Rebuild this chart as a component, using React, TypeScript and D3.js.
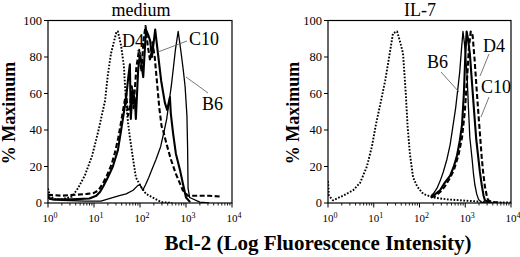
import React from 'react';
import * as d3 from 'd3';

type Pt = [number, number]; // [log10 intensity, % of maximum]

const yTicks = [0, 20, 40, 60, 80, 100];
const xDecades = [0, 1, 2, 3, 4];
const panelTitles = ['medium', 'IL-7'];

const mediumControl: Pt[] = [[0,8],[0.04,4],[0.15,2],[0.3,2],[0.45,3],[0.52,3.5],[0.65,8],[0.8,15],[0.96,26],[1.09,39],[1.24,56],[1.3,70],[1.37,82],[1.41,86],[1.49,94],[1.52,94],[1.59,86],[1.65,75],[1.68,62],[1.71,52],[1.74,44],[1.78,36],[1.85,24],[1.91,14],[2.02,9],[2.13,5],[2.24,3.5],[2.46,0.5],[2.7,0]];
const mediumD4: Pt[] = [[0,3],[0.1,2],[0.5,2],[0.9,2.5],[1.05,4],[1.13,6],[1.2,9],[1.3,14],[1.41,20],[1.52,29],[1.59,40],[1.67,53],[1.7,58],[1.75,70],[1.78,76],[1.8,46],[1.84,62],[1.89,56],[1.91,46],[1.96,73],[2.0,82],[2.07,69],[2.13,95],[2.18,92],[2.22,89],[2.26,80],[2.33,95],[2.39,82],[2.46,67],[2.54,55],[2.59,51],[2.65,58],[2.67,49],[2.72,38],[2.78,27],[2.87,18],[2.93,11],[3.0,3],[3.09,0.5]];
const mediumC10: Pt[] = [[0,4.5],[0.3,4],[0.6,4.5],[0.85,5],[1.0,5.5],[1.1,7],[1.2,11],[1.28,15],[1.38,21],[1.46,28],[1.53,36],[1.6,46],[1.66,55],[1.7,60],[1.74,48],[1.78,52],[1.82,64],[1.86,52],[1.92,74],[1.98,84],[2.03,72],[2.08,90],[2.12,97],[2.17,86],[2.22,78],[2.27,88],[2.32,80],[2.37,66],[2.42,52],[2.47,42],[2.5,40],[2.57,33],[2.67,24],[2.78,16],[2.93,7],[3.04,4],[3.5,4],[3.78,3.5]];
const mediumB6: Pt[] = [[0,4],[0.04,2],[0.3,1.5],[0.8,1],[1.15,1],[1.35,2.5],[1.55,4],[1.7,5],[1.85,7],[1.95,9.5],[2.0,10],[2.06,7],[2.12,10],[2.19,14],[2.27,19],[2.35,24],[2.45,31],[2.53,40],[2.58,46],[2.63,55],[2.68,64],[2.73,75],[2.77,84],[2.83,94],[2.89,83],[2.94,73],[2.98,64],[3.02,48],[3.035,30],[3.045,8],[3.08,3],[3.3,0.5],[3.5,0]];

const il7Control: Pt[] = [[0,12],[0.02,4],[0.11,1.5],[0.33,4],[0.55,7],[0.7,11],[0.85,20],[0.96,31],[1.04,42],[1.15,55],[1.25,67],[1.35,82],[1.42,93],[1.51,94],[1.58,88],[1.64,82],[1.7,60],[1.74,42],[1.79,27],[1.86,14],[1.95,9],[2.08,5],[2.3,3],[2.6,2],[2.88,1.5],[3.3,0.8],[3.6,0.3],[4,0.3]];
const il7B6: Pt[] = [[2.25,4],[2.3,5],[2.38,8],[2.45,12],[2.52,17],[2.6,24],[2.67,32],[2.73,42],[2.79,52],[2.84,63],[2.88,72],[2.92,85],[2.95,94],[2.98,88],[3.01,80],[3.04,70],[3.07,52],[3.1,36],[3.15,24],[3.18,16],[3.21,10],[3.25,5],[3.29,2],[3.35,0.5],[3.45,0]];
const il7D4: Pt[] = [[2.25,3],[2.35,5],[2.45,7],[2.55,11],[2.67,15],[2.75,20],[2.82,26],[2.88,34],[2.93,43],[2.97,60],[3.0,80],[3.03,94],[3.06,90],[3.1,82],[3.15,65],[3.2,48],[3.24,35],[3.28,26],[3.32,17],[3.36,10],[3.4,4],[3.43,1.5],[3.5,0.5],[3.6,0]];
const il7C10: Pt[] = [[2.25,3],[2.35,4],[2.45,6],[2.55,9],[2.65,13],[2.75,18],[2.85,26],[2.93,36],[2.99,50],[3.04,68],[3.08,85],[3.12,94],[3.16,92],[3.2,80],[3.25,62],[3.29,48],[3.33,35],[3.36,25],[3.39,17],[3.43,9],[3.47,4],[3.5,1.5],[3.6,0.5],[3.8,0]];

const SERIF = '"Liberation Serif", "Times New Roman", serif';

type Style = { w: number; dash?: string };
const controlStyle: Style = { w: 1.9, dash: '1.7 1.6' };
const d4Style: Style = { w: 2.1 };
const c10Style: Style = { w: 2.1, dash: '5 2.5' };
const b6Style: Style = { w: 1.3 };

type Label = { text: string; tx: number; ty: number; line: [number, number, number, number] };

const panels = [
  {
    title: panelTitles[0], x0: 48, x1: 232, titleX: 141, yTitleX: 15,
    series: [
      { data: mediumControl, style: controlStyle },
      { data: mediumB6, style: b6Style },
      { data: mediumC10, style: c10Style },
      { data: mediumD4, style: d4Style },
    ],
    labels: [
      { text: 'D4', tx: 122, ty: 47, line: [137, 50, 143, 58] },
      { text: 'C10', tx: 189, ty: 45, line: [158, 52, 187, 41] },
      { text: 'B6', tx: 202, ty: 110, line: [186, 77, 208, 93] },
    ] as Label[],
  },
  {
    title: panelTitles[1], x0: 328, x1: 511, titleX: 420, yTitleX: 299,
    series: [
      { data: il7Control, style: controlStyle },
      { data: il7B6, style: b6Style },
      { data: il7C10, style: c10Style },
      { data: il7D4, style: d4Style },
    ],
    labels: [
      { text: 'B6', tx: 427, ty: 68, line: [441, 72, 459, 92] },
      { text: 'D4', tx: 483, ty: 52, line: [489, 54, 480, 76] },
      { text: 'C10', tx: 481, ty: 93, line: [489, 97, 481, 117] },
    ] as Label[],
  },
];

const Y0 = 203;
const Y1 = 20.5;

function Panel({ p }: { p: typeof panels[number] }) {
  const x = d3.scaleLog().domain([1, 1e4]).range([p.x0, p.x1]);
  const y = d3.scaleLinear().domain([0, 100]).range([Y0, Y1]);
  const line = d3.line<Pt>().x(d => x(Math.pow(10, d[0]))).y(d => y(d[1]));
  const minor: number[] = [];
  for (let dIdx = 0; dIdx < 4; dIdx++) for (let k = 2; k <= 9; k++) minor.push(k * Math.pow(10, dIdx));
  return (
    <g>
      <defs>
        <clipPath id={'clip' + p.x0}>
          <rect x={p.x0} y={Y1 - 2} width={p.x1 - p.x0} height={Y0 - Y1 + 2} />
        </clipPath>
      </defs>
      <g clipPath={`url(#clip${p.x0})`}>
        {p.series.map((s, i) => (
          <path key={i} d={line(s.data) || ''} fill="none" stroke="#000" strokeWidth={s.style.w}
            strokeDasharray={s.style.dash} strokeLinejoin="round" />
        ))}
      </g>
      <rect x={p.x0} y={Y1} width={p.x1 - p.x0} height={Y0 - Y1} fill="none" stroke="#000" strokeWidth={1.2} />
      {yTicks.map(t => (
        <g key={t}>
          <line x1={p.x0 - 4} x2={p.x0} y1={y(t)} y2={y(t)} stroke="#000" strokeWidth={1} />
          <text x={p.x0 - 6} y={y(t) + 4} textAnchor="end" fontSize={12.5} fontFamily={SERIF}>{t}</text>
        </g>
      ))}
      {minor.map(v => (
        <line key={v} x1={x(v)} x2={x(v)} y1={Y0} y2={Y0 + 2.5} stroke="#000" strokeWidth={0.9} />
      ))}
      {xDecades.map(e => (
        <g key={e}>
          <line x1={x(Math.pow(10, e))} x2={x(Math.pow(10, e))} y1={Y0} y2={Y0 + 4.5} stroke="#000" strokeWidth={1} />
          <text x={x(Math.pow(10, e)) + 2} y={222} textAnchor="middle" fontSize={11} fontFamily={SERIF}>
            10<tspan dy={-4.5} fontSize={8}>{e}</tspan>
          </text>
        </g>
      ))}
      <text x={p.titleX} y={16} textAnchor="middle" fontSize={18} fontFamily={SERIF}>{p.title}</text>
      <text transform={`translate(${p.yTitleX},${113}) rotate(-90)`} textAnchor="middle" fontSize={18}
        fontWeight="bold" fontFamily={SERIF}>% Maximum</text>
      {p.labels.map(l => (
        <g key={l.text}>
          <line x1={l.line[0]} y1={l.line[1]} x2={l.line[2]} y2={l.line[3]} stroke="#555" strokeWidth={0.8} />
          <text x={l.tx} y={l.ty} fontSize={18} fontFamily={SERIF}>{l.text}</text>
        </g>
      ))}
    </g>
  );
}

export default function App() {
  return (
    <svg width={520} height={257} viewBox="0 0 520 257"
      style={{ position: 'absolute', left: 0, top: 0, background: '#fff' }}>
      <rect width={520} height={257} fill="#fff" />
      {panels.map(p => <Panel key={p.title} p={p} />)}
      <text x={318} y={250} textAnchor="middle" fontSize={21} fontWeight="bold" fontFamily={SERIF}>
        Bcl-2 (Log Fluorescence Intensity)
      </text>
    </svg>
  );
}
